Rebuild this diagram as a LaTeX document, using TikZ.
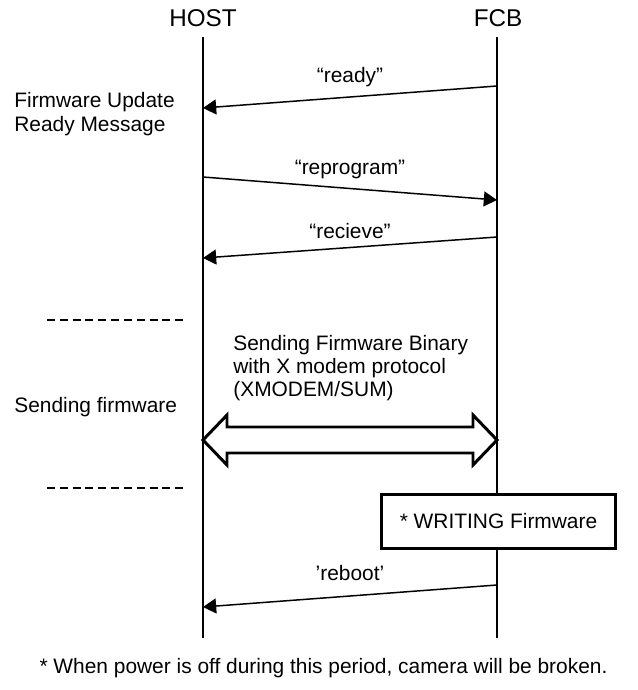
\documentclass[tikz,border=0pt]{standalone}
\usepackage{fontspec}
\setmainfont{Liberation Sans}
\usetikzlibrary{arrows.meta,positioning,calc}

\begin{document}
\begin{tikzpicture}[x=0.02cm,y=-0.02cm]
  \tikzset{font=\fontsize{11.9}{13.2}\selectfont}

  \tikzset{actor/.style = {inner sep=0pt,font=\fontsize{13.8}{15}\selectfont}}

  \tikzset{life/.style = {line width=1.7pt}}

  \tikzset{msg/.style = {line width=0.85pt,-{Triangle[length=7.5pt,width=8.5pt]}}}

  \tikzset{sep/.style = {line width=1.1pt,dash pattern=on 4.5pt off 2.8pt}}

  \tikzset{note/.style = {align=left,anchor=west,inner sep=0pt}}

  \tikzset{wbox/.style = {draw,line width=1.7pt,fill=white,minimum width=4.68cm,minimum height=1.08cm}}

  \useasboundingbox (0,0) rectangle (638,690);

  % actors
  \node[actor] (host) at (203,18) {HOST};
  \node[actor] (fcb) at (498,18) {FCB};

  \coordinate (hT) at (203,37);
  \coordinate (hB) at (203,638);
  \coordinate (fT) at (497,37);
  \coordinate (fB) at (497,638);

  \draw[life] (hT) -- (hB);
  \draw[life] (fT) -- (fB);

  % points on the lifelines
  \coordinate (h1) at (203,108);
  \coordinate (f1) at (497,86);
  \coordinate (h2) at (203,177);
  \coordinate (f2) at (497,200);
  \coordinate (h3) at (203,258);
  \coordinate (f3) at (497,237);
  \coordinate (h5) at (203,440);
  \coordinate (f5) at (497,440);
  \coordinate (h4) at (203,607);
  \coordinate (f4) at (497,585);

  % messages
  \draw[msg] (f1) -- node[midway,above=2pt] {“ready”} (h1);
  \draw[msg] (h2) -- node[midway,above=2pt] {“reprogram”} (f2);
  \draw[msg] (f3) -- node[midway,above=1pt] {“recieve”} (h3);
  \draw[msg] (f4) -- node[midway,above=5pt] {’reboot’} (h4);

  % transfer
  \draw[life,fill=white,line join=miter] (h5) -- ++(24,-25) -- ++(0,12) -- ($(f5)+(-24,-13)$) -- ++(0,-12)
    -- (f5) -- ++(-24,25) -- ++(0,-12) -- ($(h5)+(24,13)$) -- ++(0,12) -- cycle;

  \node[wbox] (wr) at (498.5,521.5) {* WRITING Firmware};

  % side notes
  \node[note] (ready) at (14,114) {Firmware Update\\Ready Message};
  \node[note] (send) at (14,407) {Sending firmware};
  \node[note,text depth=0pt] (bin) at (233,366) {Sending Firmware Binary\\with X modem protocol\\(XMODEM/SUM)};

  \draw[sep] (47,320) -- (183,320);
  \draw[sep] (47,488) -- (183,488);

  \node (foot) at (323.5,668) {* When power is off during this period, camera will be broken.};
\end{tikzpicture}
\end{document}
